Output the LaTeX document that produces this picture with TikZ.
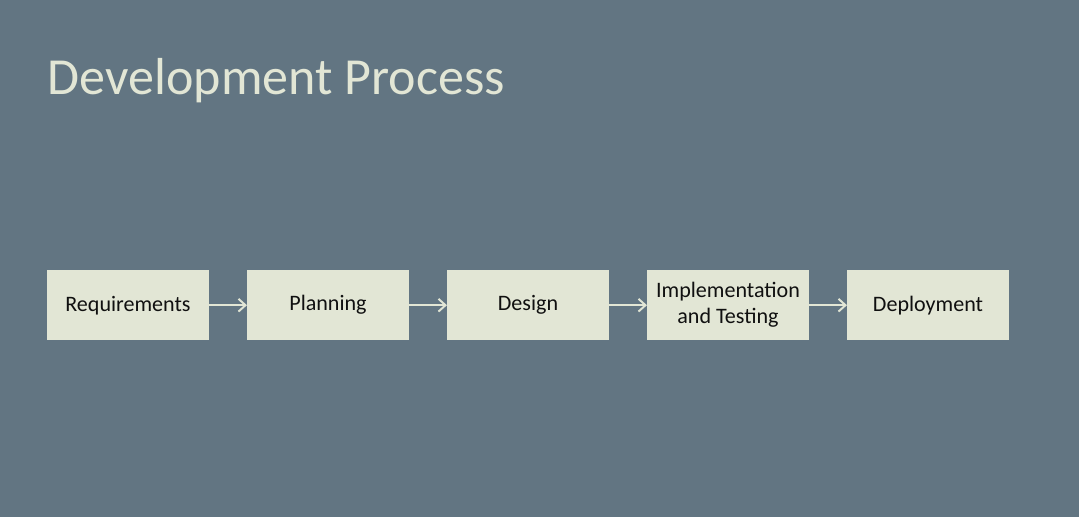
\documentclass[tikz,border=0pt]{standalone}
\usepackage{fontspec}
\setmainfont{Carlito}
\usepackage{xcolor}
\usetikzlibrary{positioning,arrows.meta}
\definecolor{slate}{HTML}{627582}
\definecolor{paper}{HTML}{E2E6D5}
\definecolor{ink}{HTML}{101010}
\tikzset{stage/.style={rectangle,fill=paper,minimum width=4.05cm,minimum height=1.75cm,align=center,font=\fontsize{15.7}{18.5}\selectfont,text=ink,inner sep=2pt,outer sep=0pt},
  flow/.style={paper,line width=1.4pt,-{Straight Barb[length=5pt,width=9pt]}}}

\begin{document}
\begin{tikzpicture}
\fill[slate] (0,0) rectangle (26.975,-12.925);
\useasboundingbox (0,0) rectangle (26.975,-12.925);
\node[anchor=base west,text=paper,font=\fontsize{37}{42}\selectfont,inner sep=0pt] (title) at (1.19,-2.37) {Development Process};
\node[stage] (req) at (3.2,-7.63) {Requirements};
\node[stage,right=0.95cm of req] (plan) {Planning};
\node[stage,right=0.95cm of plan] (des) {Design};
\node[stage,right=0.95cm of des] (impl) {Implementation\\and Testing};
\node[stage,right=0.95cm of impl] (dep) {Deployment};
\foreach \a/\b in {req/plan,plan/des,des/impl,impl/dep}{\draw[flow] (\a) -- (\b);}
\end{tikzpicture}
\end{document}
